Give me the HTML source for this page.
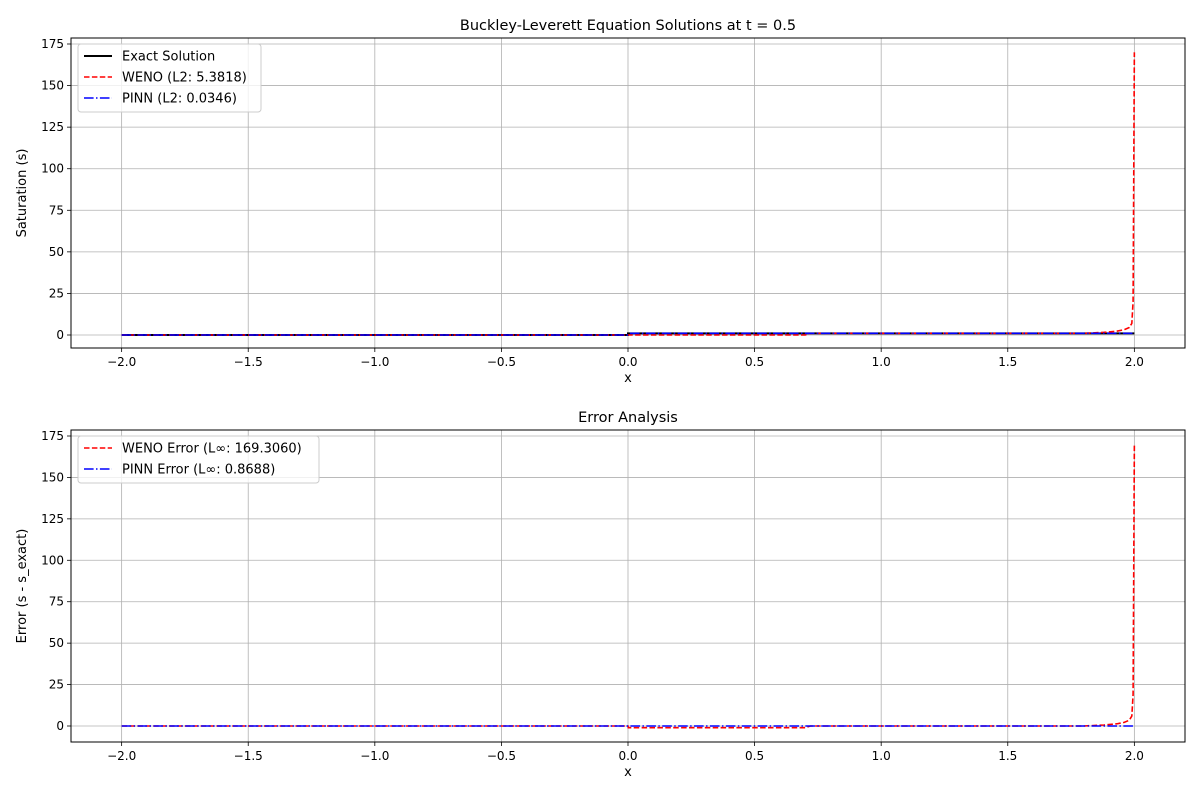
<!DOCTYPE html>
<html><head><meta charset="utf-8"><style>
body{margin:0;background:#fff}
svg text{font-family:"DejaVu Sans","Liberation Sans",sans-serif;fill:#000}
</style></head><body>
<svg id="fig" width="1200" height="800" xmlns="http://www.w3.org/2000/svg"></svg>
<script>
const xTicks=[-2.0,-1.5,-1.0,-0.5,0.0,0.5,1.0,1.5,2.0];
const yTicks=[0,25,50,75,100,125,150,175];
const exactX=[-2,0,0,2];
const exactY=[0,0,1,1];
const wenoX=[-2,0,0.7,0.72,1.8,1.88,1.93,1.96,1.98,1.99,1.995,2.0];
const wenoY=[0,0,0,1,1,1.6,2.3,3.2,4.5,7,20,170];
const pinnX=[-2,0,0.01,2];
const pinnY=[0,0,1,1];
const wenoErrX=[-2,0,0.001,0.7,0.72,1.8,1.88,1.93,1.96,1.98,1.99,1.995,2.0];
const wenoErrY=[0,0,-1,-1,0,0,0.6,1.3,2.2,3.5,6,19,169.3];
const pinnErrX=[-2,0,2];
const pinnErrY=[0,0,0];

const NS="http://www.w3.org/2000/svg";
const svg=document.getElementById('fig');
function mk(tag,attrs,parent){const e=document.createElementNS(NS,tag);for(const k in attrs)e.setAttribute(k,attrs[k]);(parent||svg).appendChild(e);return e;}

function panel(top,bottom,zeroOff,title,ylabel,series,legend,name){
  const L=71,R=1185;
  const g=mk('g',{});
  
  
  const xs=v=>L+(v+2.2)/4.4*(R-L);
  const y0=bottom-zeroOff, y175=top+6;
  const ys=v=>y0-(v/175)*(y0-y175);
  for(const t of xTicks){
    const l=mk('line',{x1:xs(t),x2:xs(t),y1:top,y2:bottom,stroke:'#b0b0b0','stroke-width':0.8},g);
    
    mk('line',{x1:xs(t),x2:xs(t),y1:bottom,y2:bottom+4,stroke:'#000','stroke-width':0.8},g);
    const tx=mk('text',{x:xs(t),y:bottom+18,'text-anchor':'middle','font-size':12},g);
    tx.textContent=(t<0?'\u2212':'')+Math.abs(t).toFixed(1);
    
  }
  for(const t of yTicks){
    const l=mk('line',{x1:L,x2:R,y1:ys(t),y2:ys(t),stroke:'#b0b0b0','stroke-width':0.8},g);
    
    mk('line',{x1:L-4,x2:L,y1:ys(t),y2:ys(t),stroke:'#000','stroke-width':0.8},g);
    const tx=mk('text',{x:L-7,y:ys(t)+4,'text-anchor':'end','font-size':12},g);
    tx.textContent=t;
    
  }
  for(const s of series){
    const d=s.x.map((v,i)=>(i?'L':'M')+xs(v).toFixed(2)+','+ys(s.y[i]).toFixed(2)).join('');
    const p=mk('path',{d:d,fill:'none',stroke:s.c,'stroke-width':s.w,'stroke-dasharray':s.dash||'none'},g);
    
  }
  const fr=mk('rect',{x:L,y:top,width:R-L,height:bottom-top,fill:'none',stroke:'#000','stroke-width':1},g);
  
  const ti=mk('text',{x:(L+R)/2,y:top-8,'text-anchor':'middle','font-size':14.5},g);
  ti.textContent=title;
  const xl=mk('text',{x:(L+R)/2,y:bottom+34,'text-anchor':'middle','font-size':13},g);
  xl.textContent='x';
  const yl=mk('text',{x:0,y:0,'text-anchor':'middle','font-size':13,transform:`translate(26,${(top+bottom)/2}) rotate(-90)`},g);
  yl.textContent=ylabel;
  const lg=mk('g',{},g);
  
  mk('rect',{x:78,y:top+6,width:legend.w,height:legend.items.length*21+5,rx:3,fill:'#fff','fill-opacity':0.8,stroke:'#ccc'},lg);
  legend.items.forEach((it,i)=>{
    const yy=top+18+i*21;
    mk('line',{x1:84,x2:112,y1:yy,y2:yy,stroke:it.c,'stroke-width':it.w,'stroke-dasharray':it.dash||'none'},lg);
    const t=mk('text',{x:122,y:yy+4.5,'font-size':13},lg);
    t.textContent=it.label;
  });
}
const dashed='5.5,2.4', dashdot='9.6,2.4,1.5,2.4';
panel(38,348,13,'Buckley-Leverett Equation Solutions at t = 0.5','Saturation (s)',[
  {x:exactX,y:exactY,c:'#000',w:2,name:'exact-solution-line'},
  {x:wenoX,y:wenoY,c:'#ff0000',w:1.6,dash:dashed,name:'weno-line'},
  {x:pinnX,y:pinnY,c:'#0000ff',w:1.6,dash:dashdot,name:'pinn-line'}
],{w:183,items:[
  {label:'Exact Solution',c:'#000',w:2},
  {label:'WENO (L2: 5.3818)',c:'#ff0000',w:1.5,dash:dashed},
  {label:'PINN (L2: 0.0346)',c:'#0000ff',w:1.5,dash:dashdot}]},'solution-panel');
panel(430,742,16,'Error Analysis','Error (s - s_exact)',[
  {x:wenoErrX,y:wenoErrY,c:'#ff0000',w:1.6,dash:dashed,name:'weno-error-line'},
  {x:pinnErrX,y:pinnErrY,c:'#0000ff',w:1.6,dash:dashdot,name:'pinn-error-line'}
],{w:241,items:[
  {label:'WENO Error (L\u221e: 169.3060)',c:'#ff0000',w:1.5,dash:dashed},
  {label:'PINN Error (L\u221e: 0.8688)',c:'#0000ff',w:1.5,dash:dashdot}]},'error-panel');
</script>
</body></html>
